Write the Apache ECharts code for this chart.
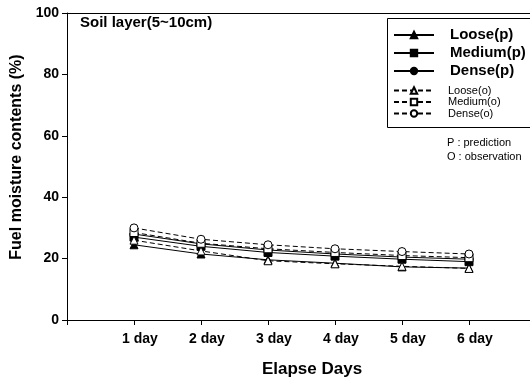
<!DOCTYPE html>
<html><head><meta charset="utf-8">
<script src="https://cdn.jsdelivr.net/npm/echarts@6/dist/echarts.min.js"></script>
<style>html,body{margin:0;padding:0;background:#fff}#c{width:530px;height:379px}</style>
</head><body><div id="c"></div>
<script>
const days = [1, 2, 3, 4, 5, 6];
const dayLabels = ['1 day', '2 day', '3 day', '4 day', '5 day', '6 day'];
const yTicks = [0, 20, 40, 60, 80, 100];
const loosePred = [24.5, 21.5, 19.6, 18.5, 17.3, 16.9];
const mediumPred = [27.0, 24.0, 22.0, 20.8, 19.8, 19.0];
const densePred = [28.0, 24.8, 22.8, 21.5, 20.5, 19.8];
const looseObs = [26.0, 22.5, 19.3, 18.3, 17.5, 16.8];
const mediumObs = [28.5, 25.0, 23.2, 22.0, 21.0, 20.3];
const denseObs = [30.0, 26.3, 24.5, 23.2, 22.3, 21.5];

const F = 'Arial, "Liberation Sans", sans-serif';
function pts(v) { return days.map((d, i) => [d, v[i]]); }
function ser(name, data, symbol, filled) {
  return {
    name, type: 'line', data: pts(data), symbol, symbolSize: 8,
    lineStyle: { color: '#000', width: 1, type: filled ? 'solid' : [5, 3] },
    itemStyle: { color: filled ? '#000' : '#fff', borderColor: '#000', borderWidth: 1 },
    emphasis: { disabled: true }, z: filled ? 3 : 4
  };
}
const chart = echarts.init(document.getElementById('c'));
chart.setOption({
  animation: false,
  backgroundColor: '#fff',
  grid: { left: 67, right: 0, top: 13, bottom: 59 },
  xAxis: [{
    type: 'value', min: 0, max: 463 / 67, interval: 1,
    axisLine: { lineStyle: { color: '#000', width: 1 } },
    axisTick: { show: true, length: 5, lineStyle: { color: '#000' } },
    splitLine: { show: false },
    axisLabel: {
      margin: 12, color: '#000', fontFamily: F, fontWeight: 'bold', fontSize: 14,
      padding: [0, 0, 0, 12],
      formatter: v => (v >= 1 && v <= 6 && Number.isInteger(v)) ? dayLabels[v - 1] : '',
      showMaxLabel: false
    }
  }, {
    type: 'value', position: 'top', min: 0, max: 463 / 67,
    axisLine: { show: true, lineStyle: { color: '#000', width: 1 } },
    axisTick: { show: false }, axisLabel: { show: false }, splitLine: { show: false }
  }],
  yAxis: {
    type: 'value', min: 0, max: 100, interval: 20,
    axisLine: { show: true, lineStyle: { color: '#000', width: 1 } },
    axisTick: { show: true, length: 5, lineStyle: { color: '#000' } },
    splitLine: { show: false },
    axisLabel: { margin: 8, color: '#000', fontFamily: F, fontWeight: 'bold', fontSize: 14 }
  },
  legend: [{
    orient: 'vertical', left: 393, top: 27.5, padding: 0, itemWidth: 40, itemHeight: 8, itemGap: 3,
    data: ['Loose(p)', 'Medium(p)', 'Dense(p)'],
    textStyle: { color: '#000', fontFamily: F, fontWeight: 'bold', fontSize: 15, padding: [0, 0, 0, 11] },
    selectedMode: false
  }, {
    orient: 'vertical', left: 393, top: 85, padding: 0, itemWidth: 40, itemHeight: 8, itemGap: 0.5,
    data: ['Loose(o)', 'Medium(o)', 'Dense(o)'],
    textStyle: { color: '#000', fontFamily: F, fontSize: 11, padding: [0, 0, 0, 9] },
    selectedMode: false
  }],
  graphic: [
    { type: 'rect', left: 385, top: 16, shape: { width: 144, height: 109 },
      style: { fill: 'none', stroke: '#000', lineWidth: 1 }, z: 0 },
    { type: 'text', left: 80, top: 15, style: { text: 'Soil layer(5~10cm)', font: 'bold 15px ' + F, fill: '#000' } },
    { type: 'text', left: 447, top: 137, style: { text: 'P : prediction', font: '11px ' + F, fill: '#000' } },
    { type: 'text', left: 447, top: 151, style: { text: 'O : observation', font: '11px ' + F, fill: '#000' } },
    { type: 'text', x: 17, y: 157, rotation: Math.PI / 2,
      style: { text: 'Fuel moisture contents (%)', font: 'bold 16px ' + F, fill: '#000', align: 'center', verticalAlign: 'middle' } },
    { type: 'text', x: 312, y: 369,
      style: { text: 'Elapse Days', font: 'bold 17px ' + F, fill: '#000', align: 'center', verticalAlign: 'middle' } }
  ],
  series: [
    ser('Loose(p)', loosePred, 'triangle', true),
    ser('Medium(p)', mediumPred, 'rect', true),
    ser('Dense(p)', densePred, 'circle', true),
    ser('Loose(o)', looseObs, 'triangle', false),
    ser('Medium(o)', mediumObs, 'rect', false),
    ser('Dense(o)', denseObs, 'circle', false)
  ]
});
</script></body></html>
